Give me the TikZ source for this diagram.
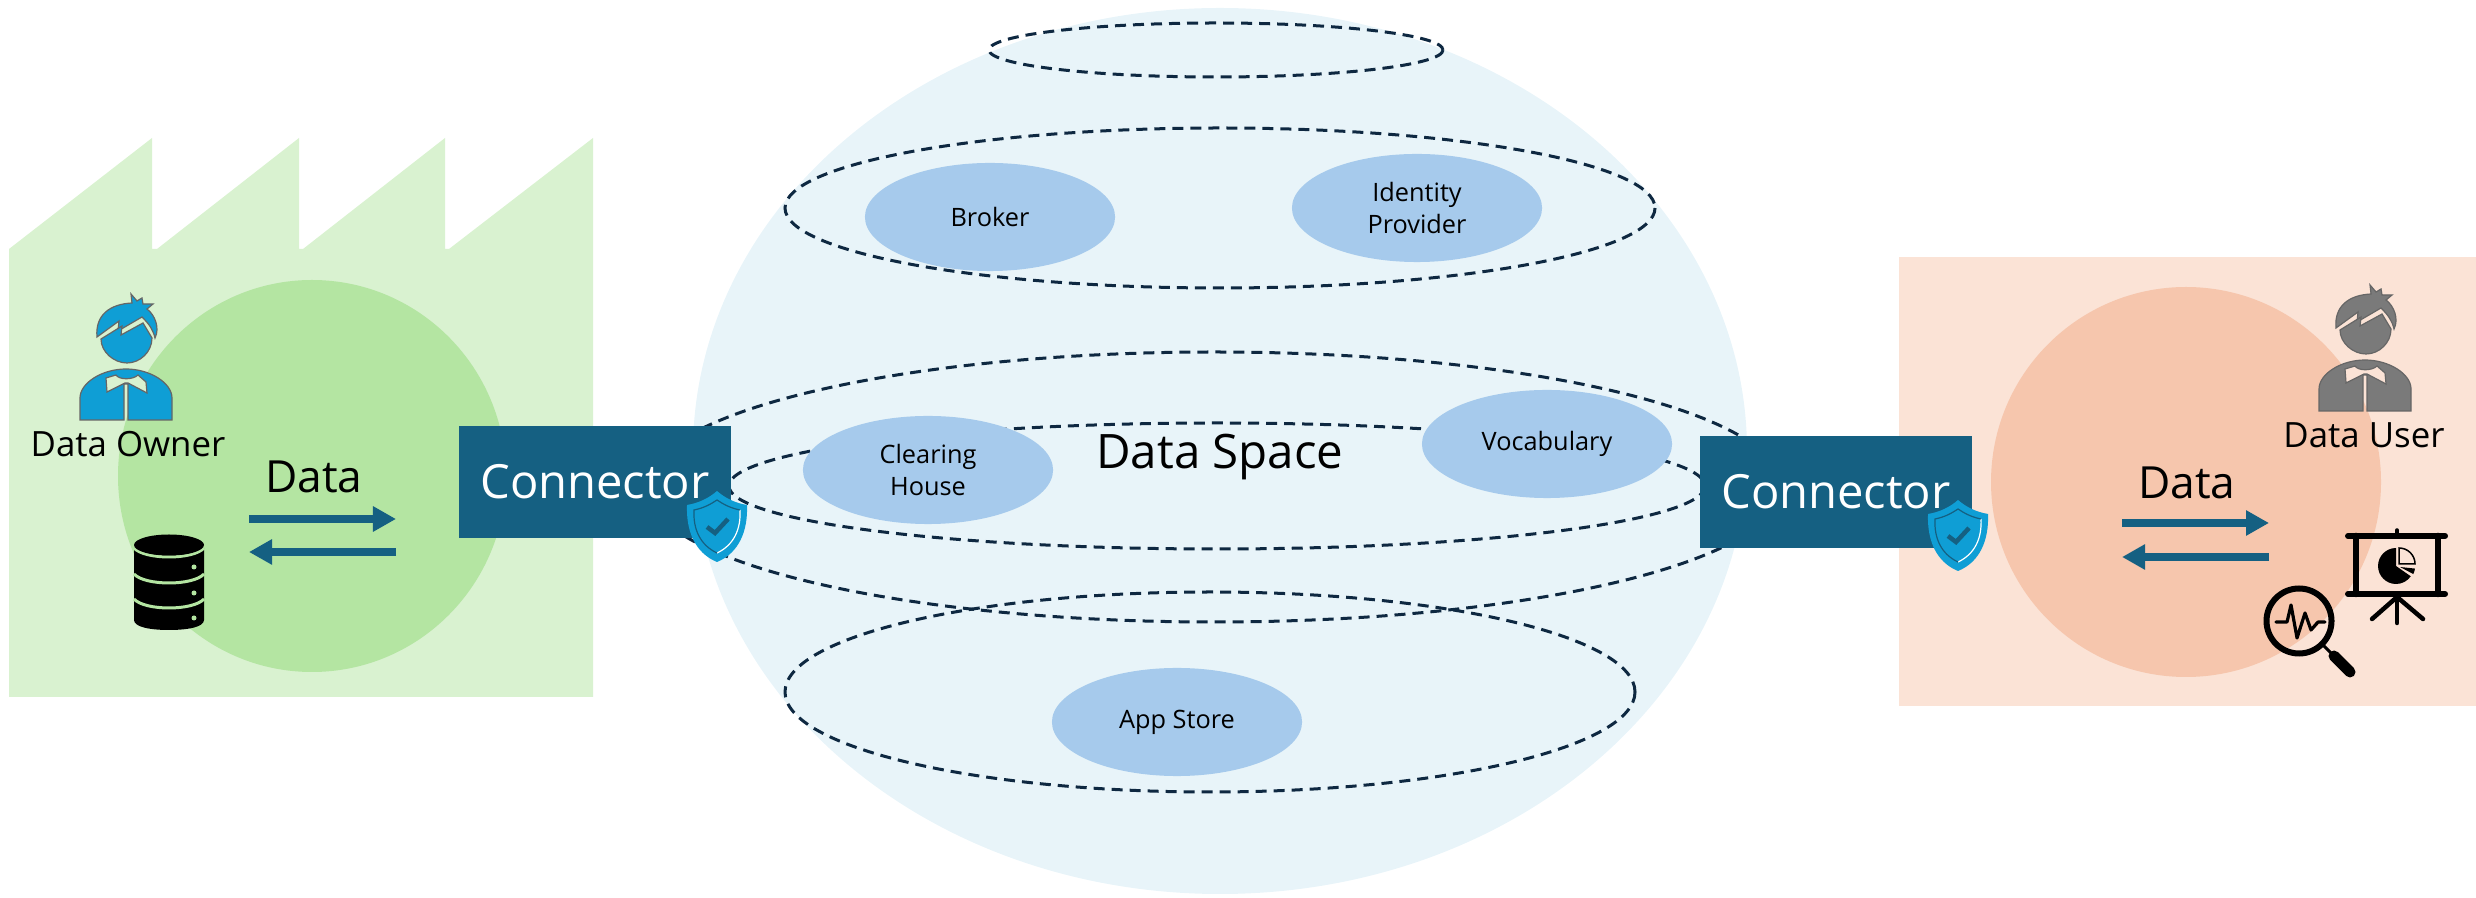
\documentclass[tikz,border=0pt]{standalone}
\usepackage{fontspec}
\setmainfont{Open Sans}
\usetikzlibrary{arrows.meta,shapes.geometric}

\definecolor{factorygreen}{HTML}{D9F2D0}
\definecolor{ownergreen}{HTML}{B4E5A2}
\definecolor{userpeach}{HTML}{FBE3D6}
\definecolor{peachdark}{HTML}{F6C6AD}
\definecolor{spaceblue}{HTML}{E8F4F9}
\definecolor{roleblue}{HTML}{A6CAEC}
\definecolor{connblue}{HTML}{156082}
\definecolor{ringblue}{HTML}{0E2841}
\definecolor{iconblue}{HTML}{0F9ED5}
\definecolor{icongrey}{HTML}{7A7A7A}

\tikzset{
  role/.style={ellipse,fill=roleblue,minimum width=2.5cm,minimum height=1.08cm,inner sep=0pt,align=center,font=\fontsize{7.2}{9.1}\selectfont},
  connbox/.style={fill=connblue,text=white,minimum width=2.71cm,minimum height=1.12cm,inner sep=0pt,text height=0.32cm,text depth=0cm,font=\fontsize{13.4}{15}\selectfont},
  ring/.style={ringblue,line width=0.03cm,dash pattern=on 0.11cm off 0.07cm},
  dataflow/.style={connblue,line width=0.08cm,-{Triangle[length=0.23cm,width=0.24cm]}},
  biglabel/.style={anchor=base,inner sep=0pt,font=\fontsize{12.6}{15}\selectfont},
  wholabel/.style={anchor=base,inner sep=0pt,font=\fontsize{9.9}{12}\selectfont},
  pics/person/.style n args={2}{code={
    \begin{scope}[draw=black!60,line width=0.012cm]
      \filldraw[fill=#1] (37,57) .. controls (35,35) and (50,24) .. (72,23) -- (71,14) -- (77,21) -- (82,18) -- (83,24) -- (93,24) -- (87,29) .. controls (95,35) and (100,48) .. (95,58) .. controls (93,50) and (90,45) .. (82,37) -- (58,51) -- (59,41) -- cycle;
      \filldraw[fill=#1] (41,59) -- (62,46) -- (61,55) -- (83,43) -- (92,58) .. controls (92,72) and (80,83) .. (67,83) .. controls (54,83) and (41,72) .. (41,59) -- cycle;
      \filldraw[fill=#1] (20,140) -- (20,118) .. controls (20,103) and (42,89) .. (66,89) .. controls (90,89) and (112,103) .. (112,118) -- (112,140) -- (68,140) -- (68,104) -- (64,104) -- (64,140) -- cycle;
      \filldraw[fill=#2] (46,98) -- (56,95) .. controls (59,100) and (73,100) .. (78,95) -- (86,102) -- (87,113) -- (68,103) -- (65,103) -- (47,112) -- cycle;
    \end{scope}
  }},
  pics/shield/.style={code={
    \fill[iconblue] (0,0) .. controls (8,7) and (18,12) .. (30,14) .. controls (31,40) and (22,62) .. (0,71) .. controls (-22,62) and (-31,40) .. (-30,14) .. controls (-18,12) and (-8,7) .. (0,0) -- cycle;
    \draw[white,line width=0.012cm] (23,19) .. controls (24,38) and (17,54) .. (0,62);
    \draw[connblue,line width=0.012cm] (0,62) .. controls (-17,54) and (-24,38) .. (-23,19) .. controls (-13,17) and (-6,13) .. (0,9) .. controls (6,13) and (13,17) .. (23,19);
    \draw[connblue,line width=0.045cm] (-10,36) -- (-2,42) -- (11,28);
  }}
}

\begin{document}
\begin{tikzpicture}[x=0.01cm,y=-0.01cm]
  \useasboundingbox (0,0) rectangle (2476,898);

  \fill[spaceblue] (1220,451) ellipse [x radius=527,y radius=443];
  \fill[factorygreen] (9,249) -- (152,138) -- (152,249) -- (157,249) -- (299,138) -- (299,249) -- (303,249) -- (445,138) -- (445,249) -- (449,249) -- (593,138) -- (593,697) -- (9,697) -- cycle;
  \fill[ownergreen] (312,476) ellipse [x radius=194,y radius=196];
  \fill[userpeach] (1899,257) rectangle (2476,706);
  \fill[peachdark] (2186,482) ellipse [x radius=195,y radius=195];

  \draw[ring] (1216,50) ellipse [x radius=227,y radius=27];
  \draw[ring] (1220,208) ellipse [x radius=435,y radius=80];
  \draw[ring] (1214,487) ellipse [x radius=568,y radius=135];
  \draw[ring] (1217,486) ellipse [x radius=488,y radius=63];
  \draw[ring] (1210,692) ellipse [x radius=425,y radius=100];

  \node[role] (broker) at (990,217) {Broker};
  \node[role] (idp) at (1417,208) {Identity\\Provider};
  \node[role] (clearing) at (928,470) {Clearing\\House};
  \node[role] (vocab) at (1547,444) {Vocabulary};
  \node[role] (appstore) at (1177,722) {App Store};

  \node[anchor=base,inner sep=0pt,font=\fontsize{13.5}{15}\selectfont] (spacelabel) at (1220,469) {Data Space};

  \node[connbox] (connleft) at (595,482) {Connector};
  \node[connbox] (connright) at (1836,492) {Connector};
  \pic at (717,491) {shield};
  \pic at (1958,500) {shield};

  \pic at (60,280) {person={iconblue}{factorygreen}};
  \pic at (2299,271) {person={icongrey}{userpeach}};
  \node[wholabel] (owner) at (128,457) {Data Owner};
  \node[wholabel] (user) at (2364,448) {Data User};

  \node[biglabel] (dataleft) at (314,493) {Data};
  \node[biglabel] (dataright) at (2187,499) {Data};

  \coordinate (ownerA) at (249,519);
  \coordinate (ownerB) at (396,519);
  \coordinate (ownerC) at (396,552);
  \coordinate (ownerD) at (249,552);
  \draw[dataflow] (ownerA) -- (ownerB);
  \draw[dataflow] (ownerC) -- (ownerD);
  \coordinate (userA) at (2122,523);
  \coordinate (userB) at (2269,523);
  \coordinate (userC) at (2269,557);
  \coordinate (userD) at (2122,557);
  \draw[dataflow] (userA) -- (userB);
  \draw[dataflow] (userC) -- (userD);

  \fill[black] (134,548) -- (134,620) .. controls (134,627) and (150,630) .. (169,630) .. controls (188,630) and (204,627) .. (204,620) -- (204,548) -- cycle;
  \foreach \y in {0,26,51} {
    \draw[ownergreen,line width=0.03cm] (134,548+\y) .. controls (145,560+\y) and (193,560+\y) .. (204,548+\y);
    \fill[ownergreen] (194,567+\y) circle [radius=2.5];
  }
  \fill[black] (169,545) ellipse [x radius=35,y radius=10.5];

  \begin{scope}[shift={(2250,510)},line cap=round]
    \draw[line width=0.06cm] (98,26) -- (195,26);
    \draw[line width=0.06cm] (98,84) -- (195,84);
    \draw[line width=0.065cm] (106,26) -- (106,84);
    \draw[line width=0.065cm] (188,26) -- (188,84);
    \draw[line width=0.035cm] (147,20) -- (147,26);
    \draw[line width=0.045cm] (147,86) -- (147,113);
    \draw[line width=0.045cm] (147,87) -- (122,109);
    \draw[line width=0.045cm] (147,87) -- (173,109);
    \fill (146,56) -- ++(-90:18) arc [start angle=-90,end angle=-325,radius=18] -- cycle;
    \draw[line width=0.015cm] (149,54) -- ++(-90:16) arc [start angle=-90,end angle=0,radius=16] -- cycle;
    \fill (150,57) -- ++(6:15) arc [start angle=6,end angle=28,radius=15] -- cycle;
    \draw[line width=0.06cm] (49,111) circle [radius=32.5];
    \draw[line width=0.03cm] (74,136) -- (84,146);
    \draw[line width=0.11cm] (84,146) -- (100,162);
    \draw[line width=0.032cm,line join=round] (26,112) -- (37,112) -- (41,95) -- (47,128) -- (55,103) -- (61,120) -- (68,112) -- (75,112);
  \end{scope}
\end{tikzpicture}
\end{document}
